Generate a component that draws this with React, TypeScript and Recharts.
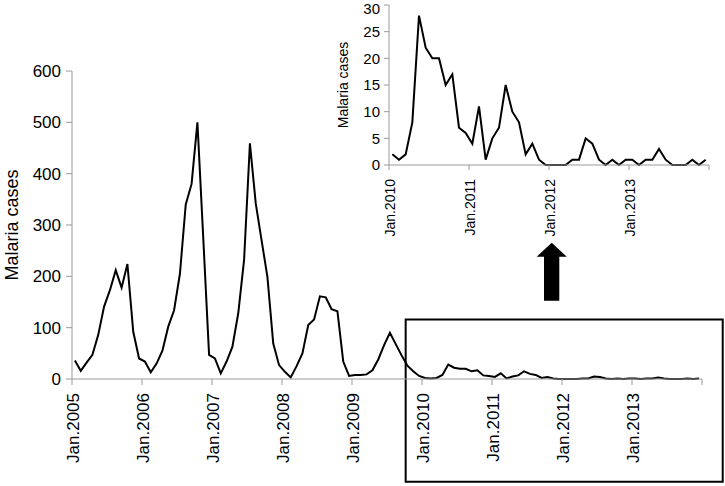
import { LineChart, Line, XAxis, YAxis, ReferenceArea } from 'recharts';

// monthly malaria cases, Jan 2005 - Dec 2009 (main chart only)
const cases2005to2009 = [
  36, 16, 32, 47, 86, 141, 173, 212, 178, 224, 92, 40,
  34, 13, 30, 55, 102, 134, 205, 340, 380, 500, 275, 47,
  40, 11, 34, 63, 128, 232, 459, 342, 270, 199, 69, 27,
  14, 3, 25, 50, 105, 116, 161, 159, 136, 132, 34, 6,
  8, 8, 9, 17, 38, 66, 90, 68, 46, 26, 15, 6,
];

// monthly malaria cases, Jan 2010 - Dec 2013 (shown in both charts)
const cases2010to2013 = [
  2, 1, 2, 8, 28, 22, 20, 20, 15, 17, 7, 6,
  4, 11, 1, 5, 7, 15, 10, 8, 2, 4, 1, 0,
  0, 0, 0, 1, 1, 5, 4, 1, 0, 1, 0, 1,
  1, 0, 1, 1, 3, 1, 0, 0, 0, 1, 0, 1,
];

const mainYearLabels = [
  'Jan.2005', 'Jan.2006', 'Jan.2007', 'Jan.2008', 'Jan.2009',
  'Jan.2010', 'Jan.2011', 'Jan.2012', 'Jan.2013',
];
const insetYearLabels = ['Jan.2010', 'Jan.2011', 'Jan.2012', 'Jan.2013'];

const mainYTicks = [0, 100, 200, 300, 400, 500, 600];
const insetYTicks = [0, 5, 10, 15, 20, 25, 30];

// month index -> point sits in the middle of its month
const mainData = [...cases2005to2009, ...cases2010to2013].map((v, i) => ({ m: i + 0.5, cases: v }));
const insetData = cases2010to2013.map((v, i) => ({ m: i + 0.5, cases: v }));

const mainMonthTicks = Array.from({ length: mainYearLabels.length + 1 }, (_, i) => i * 12);
const insetMonthTicks = Array.from({ length: insetYearLabels.length + 1 }, (_, i) => i * 12);

const AXIS = '#9a9a9a';

function YearTick(props: any) {
  const { x, y, payload, labels, fontSize, gap } = props;
  const label = labels[Math.round(payload.value / 12)] ?? '';
  const tx = x + 1;
  const ty = y + gap;
  return (
    <text
      x={tx}
      y={ty}
      dy="0.35em"
      transform={`rotate(-90, ${tx}, ${ty})`}
      textAnchor="end"
      fontSize={fontSize}
      fill="#000"
    >
      {label}
    </text>
  );
}

export default function App() {
  return (
    <div
      style={{
        position: 'absolute',
        left: 0,
        top: 0,
        width: 725,
        height: 486,
        background: '#fff',
        fontFamily: '"Liberation Sans", Arial, sans-serif',
      }}
    >
      <div style={{ position: 'absolute', left: 0, top: 0 }}>
        <LineChart width={725} height={486} data={mainData} margin={{ top: 71, right: 23, bottom: 7, left: 0 }}>
          <XAxis
            dataKey="m"
            type="number"
            domain={[0, 108]}
            ticks={mainMonthTicks}
            interval={0}
            height={100}
            stroke={AXIS}
            tickSize={6}
            tick={<YearTick labels={mainYearLabels} fontSize={17} gap={6} />}
          />
          <YAxis
            domain={[0, 600]}
            ticks={mainYTicks}
            width={72}
            stroke={AXIS}
            tickSize={6}
            tickMargin={5}
            tick={{ fill: '#000', fontSize: 17 }}
            label={{
              value: 'Malaria cases',
              angle: -90,
              position: 'insideLeft',
              offset: 12,
              fill: '#000',
              fontSize: 18,
              style: { textAnchor: 'middle' },
            }}
          />
          <ReferenceArea
            x1={57.2}
            x2={111.55}
            y1={-200}
            y2={116}
            ifOverflow="visible"
            fill="none"
            fillOpacity={0}
            stroke="#000"
            strokeWidth={2}
          />
          <Line
            dataKey="cases"
            type="linear"
            stroke="#000"
            strokeWidth={2}
            dot={false}
            isAnimationActive={false}
          />
        </LineChart>
      </div>

      <div style={{ position: 'absolute', left: 300, top: 0 }}>
        <LineChart width={425} height={250} data={insetData} margin={{ top: 5, right: 16, bottom: 5, left: 0 }}>
          <XAxis
            dataKey="m"
            type="number"
            domain={[0, 48]}
            ticks={insetMonthTicks}
            interval={0}
            height={80}
            stroke={AXIS}
            tickSize={5}
            tick={<YearTick labels={insetYearLabels} fontSize={14} gap={7} />}
          />
          <YAxis
            domain={[0, 30]}
            ticks={insetYTicks}
            width={89}
            stroke={AXIS}
            tickSize={5}
            tickMargin={4}
            tick={{ fill: '#000', fontSize: 15 }}
            label={{
              value: 'Malaria cases',
              angle: -90,
              position: 'insideLeft',
              offset: 43,
              fill: '#000',
              fontSize: 14,
              style: { textAnchor: 'middle' },
            }}
          />
          <Line
            dataKey="cases"
            type="linear"
            stroke="#000"
            strokeWidth={2}
            dot={false}
            isAnimationActive={false}
          />
        </LineChart>
      </div>

      <svg
        width={725}
        height={486}
        style={{ position: 'absolute', left: 0, top: 0, pointerEvents: 'none' }}
      >
        <polygon
          points="551.7,242.7 566.7,256.7 559.3,256.7 559.3,300.7 544,300.7 544,256.7 536.7,256.7"
          fill="#000"
        />
      </svg>
    </div>
  );
}
